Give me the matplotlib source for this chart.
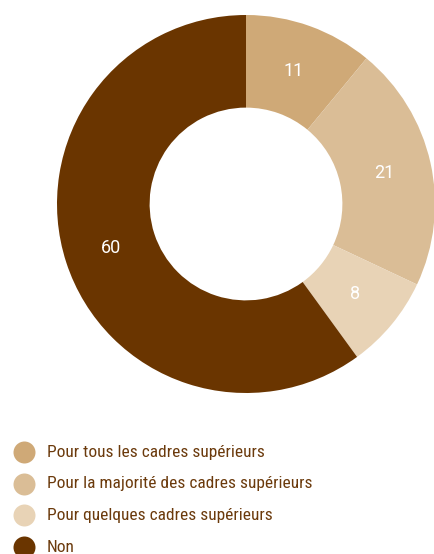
import matplotlib
matplotlib.use("Agg")
import matplotlib.pyplot as plt
from matplotlib import font_manager

categories = ["Pour tous les cadres supérieurs",
              "Pour la majorité des cadres supérieurs",
              "Pour quelques cadres supérieurs",
              "Non"]
values = [11, 21, 8, 60]
colors = ["#CFA977", "#DABD96", "#E8D3B6", "#6A3500"]
text_color = "#6B3A0C"

names = {f.name for f in font_manager.fontManager.ttflist}
family = ["Roboto Condensed", "Archivo Narrow", "Roboto", "DejaVu Sans"]
family = [f for f in family if f in names] or ["DejaVu Sans"]
plt.rcParams["font.family"] = family
num_family = [f for f in ["Roboto", "DejaVu Sans"] if f in names] or ["DejaVu Sans"]

W, H = 435, 554
fig = plt.figure(figsize=(W / 100, H / 100), dpi=100)

cx, cy, r = 246, 204, 189
ax = fig.add_axes([(cx - r) / W, (H - cy - r) / H, 2 * r / W, 2 * r / H])
wedges, texts = ax.pie(values, colors=colors, startangle=90, counterclock=False,
                       radius=1, wedgeprops=dict(width=0.49, linewidth=0),
                       labels=[str(v) for v in values], labeldistance=0.75)
for t in texts:
    t.set_color("white")
    t.set_fontsize(13)
    t.set_family(num_family)
    t.set_ha("center")
    t.set_va("center")
ax.set_xlim(-1, 1)
ax.set_ylim(-1, 1)
ax.set_aspect("equal")
ax.axis("off")

leg = fig.add_axes([0, 0, 1, 1])
leg.set_xlim(0, W)
leg.set_ylim(H, 0)
leg.axis("off")
y0, dy = 452, 31.7
for i, (lab, c) in enumerate(zip(categories, colors)):
    y = y0 + i * dy
    leg.scatter([24], [y], s=(22 * 0.72) ** 2, color=c, linewidths=0, clip_on=False)
    leg.text(47, y, lab, color=text_color, fontsize=12.5, va="center", ha="left")

fig.savefig("out.png", dpi=100)
